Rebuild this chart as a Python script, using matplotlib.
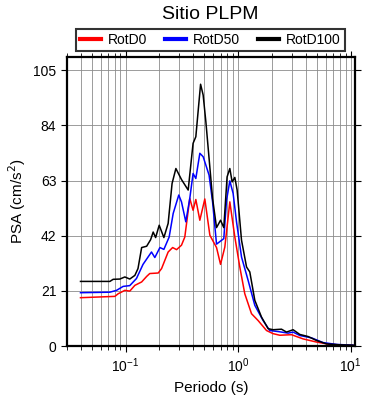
import matplotlib
matplotlib.use("Agg")
import matplotlib.pyplot as plt
from matplotlib.ticker import LogLocator, FixedLocator

plt.rcParams['font.family'] = ['Liberation Sans', 'DejaVu Sans']

# RotD100 (black)
per_d100 = [0.0398, 0.0726, 0.0776, 0.0890, 0.0986, 0.109, 0.121, 0.129, 0.139, 0.154,
            0.167, 0.176, 0.185, 0.199, 0.219, 0.239, 0.259, 0.280, 0.314, 0.360,
            0.398, 0.421, 0.464, 0.489, 0.517, 0.552, 0.593, 0.643, 0.698, 0.746,
            0.798, 0.844, 0.885, 0.935, 0.980, 1.072, 1.188, 1.270, 1.407, 1.614,
            1.847, 2.046, 2.429, 2.69, 3.08, 3.53, 4.19, 4.97, 6.10, 8.00, 10.5]
psa_d100 = [24.6, 24.6, 25.4, 25.5, 26.3, 25.5, 26.9, 29.5, 37.5, 38.0,
            40.5, 43.4, 41.3, 46.0, 41.3, 46.7, 61.9, 67.6, 63.4, 59.4,
            77.2, 79.7, 99.7, 95.6, 85.4, 71.5, 56.2, 45.1, 47.9, 45.1,
            64.4, 67.6, 62.5, 64.2, 59.4, 40.3, 30.1, 28.2, 17.4, 11.0,
            6.6, 6.2, 6.4, 5.3, 6.2, 4.4, 3.6, 2.1, 0.8, 0.45, 0.3]

# RotD50 (blue)
per_d50 = [0.0398, 0.0726, 0.0832, 0.0952, 0.109, 0.125, 0.143, 0.170, 0.182, 0.202,
           0.219, 0.244, 0.265, 0.297, 0.314, 0.343, 0.372, 0.398, 0.421, 0.457,
           0.489, 0.552, 0.593, 0.643, 0.746, 0.789, 0.844, 0.903, 0.968, 1.072,
           1.227, 1.407, 1.667, 1.91, 2.266, 2.78, 3.08, 3.53, 4.49, 5.69, 7.48, 10.5]
psa_d50 = [20.3, 20.5, 21.2, 22.7, 23.0, 25.7, 31.1, 35.8, 33.7, 37.5,
           36.8, 41.5, 50.5, 57.5, 54.9, 47.3, 56.2, 65.7, 63.8, 73.4,
           72.1, 65.1, 54.9, 38.8, 40.9, 55.5, 62.9, 58.1, 47.3, 33.9,
           25.0, 15.5, 9.7, 5.9, 5.5, 4.9, 5.3, 4.0, 3.1, 1.3, 0.6, 0.3]

# RotD0 (red)
per_d0 = [0.0398, 0.0804, 0.0860, 0.0986, 0.109, 0.121, 0.139, 0.154, 0.164, 0.195,
          0.209, 0.239, 0.262, 0.284, 0.314, 0.336, 0.372, 0.398, 0.421, 0.457,
          0.506, 0.561, 0.643, 0.698, 0.762, 0.844, 0.935, 1.035, 1.146, 1.315,
          1.505, 1.787, 2.046, 2.345, 2.98, 3.78, 4.97, 6.52, 10.5]
psa_d0 = [18.4, 18.9, 19.9, 21.2, 20.9, 23.1, 24.4, 26.5, 27.6, 27.8,
          29.5, 35.8, 37.5, 36.7, 38.4, 41.5, 56.2, 51.7, 55.8, 47.9,
          56.0, 42.2, 37.5, 31.1, 37.7, 54.9, 41.5, 30.1, 19.9, 12.3,
          9.7, 5.9, 4.7, 4.1, 4.3, 2.7, 1.5, 0.6, 0.2]

yticks = [0, 21, 42, 63, 84, 105]

fig = plt.figure(figsize=(3.9, 4.0), dpi=100)
ax = fig.add_axes([0.171, 0.135, 0.739, 0.722])

ax.plot(per_d0, psa_d0, color='red', lw=1.1, label='RotD0')
ax.plot(per_d50, psa_d50, color='blue', lw=1.1, label='RotD50')
ax.plot(per_d100, psa_d100, color='black', lw=1.1, label='RotD100')

ax.set_xscale('log')
ax.set_xlim(0.03, 10.9)
ax.set_ylim(0, 110)
ax.yaxis.set_major_locator(FixedLocator(yticks))
ax.xaxis.set_minor_locator(LogLocator(base=10, subs=range(2, 10)))

ax.grid(True, which='both', axis='x', color='#8c8c8c', lw=0.6)
ax.grid(True, which='major', axis='y', color='#8c8c8c', lw=0.6)
ax.set_axisbelow(True)

ax.tick_params(which='both', direction='out', top=True, right=True, labelsize=10)
ax.tick_params(which='major', length=4, width=0.8)
ax.tick_params(which='minor', length=3, width=0.6)
for s in ax.spines.values():
    s.set_linewidth(1.6)

ax.set_xlabel('Periodo (s)', fontsize=11)
ax.set_ylabel('PSA (cm/s$^2$)', fontsize=11)
fig.suptitle('Sitio PLPM', x=0.54, y=0.985, fontsize=14)

leg = fig.legend(loc='center', bbox_to_anchor=(0.540, 0.900), ncol=3, fontsize=10,
                 frameon=True, fancybox=False, edgecolor='black', handlelength=1.5,
                 columnspacing=1.3, borderpad=0.3, handletextpad=0.5)
leg.get_frame().set_linewidth(1.5)
for line in leg.get_lines():
    line.set_linewidth(3)

fig.savefig('out.png', dpi=100)
